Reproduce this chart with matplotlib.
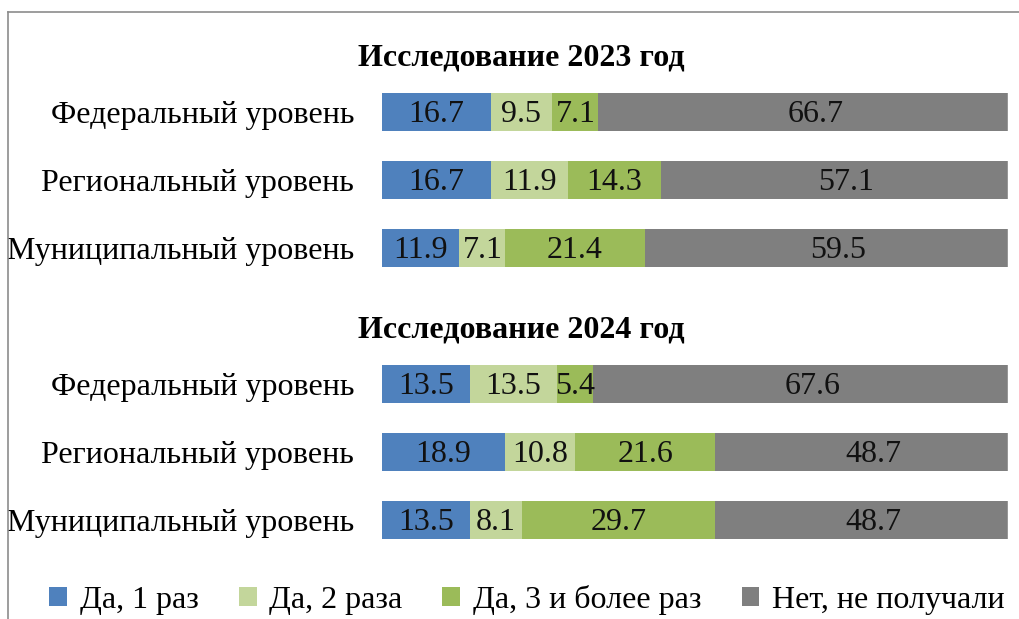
import matplotlib
matplotlib.use("Agg")
import matplotlib.pyplot as plt
from matplotlib.lines import Line2D
from matplotlib.patches import Rectangle
import numpy as np

plt.rcParams['font.family'] = ['Liberation Serif', 'DejaVu Serif']

# -------------------------------------------------------------
# Data
# -------------------------------------------------------------
row_labels = ["", "Федеральный уровень", "Региональный уровень", "Муниципальный уровень",
              "", "Федеральный уровень", "Региональный уровень", "Муниципальный уровень"]
headers = ["Исследование 2023 год", "Исследование 2024 год"]
series_names = ["Да, 1 раз", "Да, 2 раза", "Да, 3 и более раз", "Нет, не получали"]

once = [np.nan, 16.7, 16.7, 11.9, np.nan, 13.5, 18.9, 13.5]
twice = [np.nan, 9.5, 11.9, 7.1, np.nan, 13.5, 10.8, 8.1]
three_plus = [np.nan, 7.1, 14.3, 21.4, np.nan, 5.4, 21.6, 29.7]
never = [np.nan, 66.7, 57.1, 59.5, np.nan, 67.6, 48.7, 48.7]

colors = ["#4F81BD", "#C3D69B", "#9BBB59", "#7F7F7F"]

# -------------------------------------------------------------
# Plot
# -------------------------------------------------------------
W, H = 1020, 619
FS = 23
fig = plt.figure(figsize=(W / 100, H / 100), dpi=100)
# the original picture is cropped on the right, the axis runs past the edge
ax = fig.add_axes([382 / W, 1 - 554 / H, 650 / W, 544 / H])

y = np.arange(len(row_labels))
left = np.zeros(len(row_labels))
for vals, name, col in zip([once, twice, three_plus, never], series_names, colors):
    v = np.array(vals, dtype=float)
    ax.barh(y, np.nan_to_num(v), left=left, height=0.56, color=col, label=name)
    for yi, (l, val) in enumerate(zip(left, v)):
        if not np.isnan(val):
            ax.text(l + val / 2, yi + 0.04, f"{val:.1f}", ha="center", va="center",
                    fontsize=FS, color="#111111")
    left = left + np.nan_to_num(v)

ax.set_xlim(0, 100)
ax.set_ylim(len(row_labels) - 0.5, -0.5)
ax.set_yticks(y)
ax.set_yticklabels(row_labels, fontsize=FS)
ax.tick_params(axis="y", length=0, pad=20)
ax.set_xticks([])
for s in ax.spines.values():
    s.set_visible(False)

# section headers
for pos, txt in zip([0, 4], headers):
    ax.text(21.5, pos + 0.2, txt, ha="center", va="center",
            fontsize=FS, fontweight="bold")

# legend
fig.legend(loc="center", bbox_to_anchor=(527 / W, 1 - 600 / H), ncol=4,
           frameon=False, fontsize=FS, handlelength=0.56, handleheight=0.56,
           columnspacing=1.25, handletextpad=0.4)

# crop edge on the right
fig.add_artist(Rectangle((1008 / W, 0), 12 / W, 1, transform=fig.transFigure,
                         color="white", zorder=5))

# outer frame (top and left edges visible)
fig.add_artist(Line2D([8 / W, 8 / W], [0, 1 - 12 / H], transform=fig.transFigure,
                      color="#8c8c8c", lw=1.2, zorder=6))
fig.add_artist(Line2D([8 / W, 1], [1 - 12 / H, 1 - 12 / H], transform=fig.transFigure,
                      color="#8c8c8c", lw=1.2, zorder=6))

fig.savefig("out.png", dpi=100)
